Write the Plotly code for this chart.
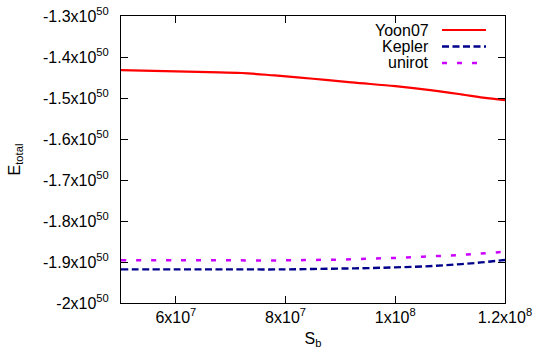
import plotly.graph_objects as go

# Data (energy in units of 1e50)
sb_yoon = [5.0e7, 6.0e7, 6.6e7, 7.2e7, 7.8e7, 8.5e7, 9.2e7, 1.0e8, 1.06e8, 1.12e8, 1.16e8, 1.2e8]
e_yoon = [-1.432, -1.435, -1.437, -1.439, -1.445, -1.453, -1.462, -1.471, -1.480, -1.491, -1.499, -1.505]

sb_kep = [5.0e7, 6.0e7, 7.0e7, 8.0e7, 8.5e7, 9.0e7, 9.5e7, 1.0e8, 1.05e8, 1.1e8, 1.15e8, 1.2e8]
e_kep = [-1.918, -1.918, -1.918, -1.918, -1.917, -1.916, -1.915, -1.913, -1.911, -1.907, -1.902, -1.895]

sb_uni = [5.0e7, 6.0e7, 7.0e7, 8.0e7, 8.5e7, 9.0e7, 9.5e7, 1.0e8, 1.05e8, 1.1e8, 1.15e8, 1.2e8]
e_uni = [-1.896, -1.896, -1.896, -1.896, -1.895, -1.894, -1.892, -1.890, -1.887, -1.884, -1.880, -1.875]

y_tickvals = [-1.3, -1.4, -1.5, -1.6, -1.7, -1.8, -1.9, -2.0]
y_ticktext = ["-1.3x10<sup>50</sup>", "-1.4x10<sup>50</sup>", "-1.5x10<sup>50</sup>", "-1.6x10<sup>50</sup>",
              "-1.7x10<sup>50</sup>", "-1.8x10<sup>50</sup>", "-1.9x10<sup>50</sup>", "-2x10<sup>50</sup>"]
x_tickvals = [6e7, 8e7, 1e8, 1.2e8]
x_ticktext = ["6x10<sup>7</sup>", "8x10<sup>7</sup>", "1x10<sup>8</sup>", "1.2x10<sup>8</sup>"]

series_names = ["Yoon07", "Kepler", "unirot"]
series_colors = ["#ff0000", "#00008b", "#cc00ff"]
series_dash = ["solid", "7px,3.5px", "5px,10px"]
series_width = [2.2, 2.4, 2.5]

FONT = "Liberation Sans, Arial, sans-serif"

fig = go.Figure()
for xs, ys, name, col, dash, w in zip([sb_yoon, sb_kep, sb_uni], [e_yoon, e_kep, e_uni],
                                      series_names, series_colors, series_dash, series_width):
    fig.add_trace(go.Scatter(x=xs, y=ys, mode="lines", name=name, line_shape="spline",
                             line=dict(color=col, dash=dash, width=w), showlegend=False))

# gnuplot-style legend (text right, sample line to its right)
for i, (name, col, dash, w) in enumerate(zip(series_names, series_colors, series_dash, series_width)):
    yp = 1 - (14 + 16.5 * i) / 287.0
    fig.add_annotation(xref="paper", yref="paper", x=(431 - 121) / 384.0, y=yp, text=name,
                       showarrow=False, xanchor="right", yanchor="middle",
                       font=dict(family=FONT, size=16, color="black"))
    fig.add_shape(type="line", xref="paper", yref="paper",
                  x0=(442 - 121) / 384.0, x1=(486 - 121) / 384.0, y0=yp, y1=yp,
                  line=dict(color=col, dash=dash, width=w))

axis_common = dict(showline=True, linecolor="black", linewidth=1, mirror="allticks",
                   ticks="inside", ticklen=7, tickcolor="black", showgrid=False, zeroline=False,
                   automargin=False,
                   tickfont=dict(family=FONT, size=16, color="black"))

fig.update_xaxes(range=[5e7, 1.2e8], tickvals=x_tickvals, ticktext=x_ticktext,
                 title=dict(text="S<sub>b</sub>", standoff=7,
                            font=dict(family=FONT, size=16, color="black")),
                 **axis_common)
fig.update_yaxes(range=[-2.0, -1.3], tickvals=y_tickvals, ticktext=y_ticktext,
                 ticklabelstandoff=8,
                 title=dict(text="E<sub>total</sub>", standoff=18,
                            font=dict(family=FONT, size=16, color="black")),
                 **axis_common)

fig.update_layout(width=536, height=354, margin=dict(l=121, r=31, t=16, b=51),
                  plot_bgcolor="white", paper_bgcolor="white",
                  font=dict(family=FONT, size=16, color="black"))

fig.write_html("out.html", config={"displayModeBar": False},
               post_script="document.body.style.margin='0';document.body.style.overflow='hidden';")
